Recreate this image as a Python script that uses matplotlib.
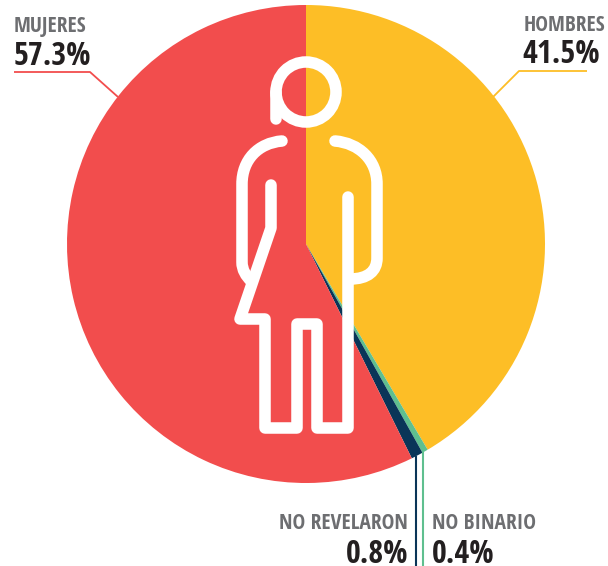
import matplotlib
matplotlib.use("Agg")
import matplotlib.pyplot as plt
from matplotlib.patches import PathPatch, Circle
from matplotlib.path import Path

categories = ["HOMBRES", "NO BINARIO", "NO REVELARON", "MUJERES"]
values = [41.5, 0.4, 0.8, 57.3]
labels = ["41.5%", "0.4%", "0.8%", "57.3%"]
colors = ["#FDBE26", "#5FBF8F", "#0A3558", "#F24D4D"]

plt.rcParams["font.family"] = ["Open Sans Condensed", "DejaVu Sans"]

GREY = "#6D6E71"
DARK = "#231F20"

fig = plt.figure(figsize=(6.08, 5.66), dpi=100)
ax = fig.add_axes([0, 0, 1, 1])

# y axis runs downwards so everything below is in picture pixels
ax.pie(values, colors=colors, startangle=-90, counterclock=True,
       center=(306, 244), radius=239, frame=True)
ax.set_xlim(0, 608)
ax.set_ylim(566, 0)
ax.axis("off")

# leader lines
ax.plot([14, 90, 118], [72, 72, 97], color=colors[3], lw=1.3, solid_capstyle="butt")
ax.plot([587, 519, 493], [71, 71, 97], color=colors[0], lw=1.3, solid_capstyle="butt")
ax.plot([416, 416], [456, 566], color=colors[2], lw=1.5, solid_capstyle="butt")
ax.plot([423, 423], [452, 566], color=colors[1], lw=1.5, solid_capstyle="butt")


def stroke(verts, codes):
    ax.add_patch(PathPatch(Path(verts, codes), fill=False, edgecolor="white", lw=8.3,
                           capstyle="round", joinstyle="round", zorder=5))


M, L, C3, C4 = Path.MOVETO, Path.LINETO, Path.CURVE3, Path.CURVE4

# person icon
ax.add_patch(Circle((306, 92), 30, fill=False, edgecolor="white", lw=8.3, zorder=5))
stroke([(276, 92), (276, 119)], [M, L])
# left shoulder and arm
stroke([(282, 141), (258, 143), (242, 160), (242, 184), (242, 262), (242, 270), (246, 276), (251, 281)],
       [M, C4, C4, C4, L, C4, C4, C4])
# arm inner line, dress, legs
stroke([(271, 185), (271, 228), (240, 319), (265, 319), (265, 428), (297, 428),
        (297, 324), (317, 324), (317, 428), (348, 428), (348, 197)],
       [M, L, L, L, L, L, L, L, L, L, L])
# right shoulder and arm
stroke([(335, 141), (359, 143), (377, 160), (377, 184), (377, 258), (377, 271), (368, 279), (350, 279)],
       [M, C4, C4, C4, L, C4, C4, C4])

# labels
name_kw = dict(fontsize=15.5, fontweight="bold", color=GREY, va="baseline")
value_kw = dict(fontsize=23, fontweight="bold", color=DARK, va="baseline")

ax.text(14, 32, categories[3], ha="left", **name_kw)
ax.text(14, 65, labels[3], ha="left", **value_kw)
ax.text(605, 31, categories[0], ha="right", **name_kw)
ax.text(522, 63, labels[0], ha="left", **value_kw)
ax.text(408, 529, categories[2], ha="right", **name_kw)
ax.text(408, 563, labels[2], ha="right", **value_kw)
ax.text(432, 529, categories[1], ha="left", **name_kw)
ax.text(432, 563, labels[1], ha="left", **value_kw)

fig.savefig("out.png", dpi=100)
